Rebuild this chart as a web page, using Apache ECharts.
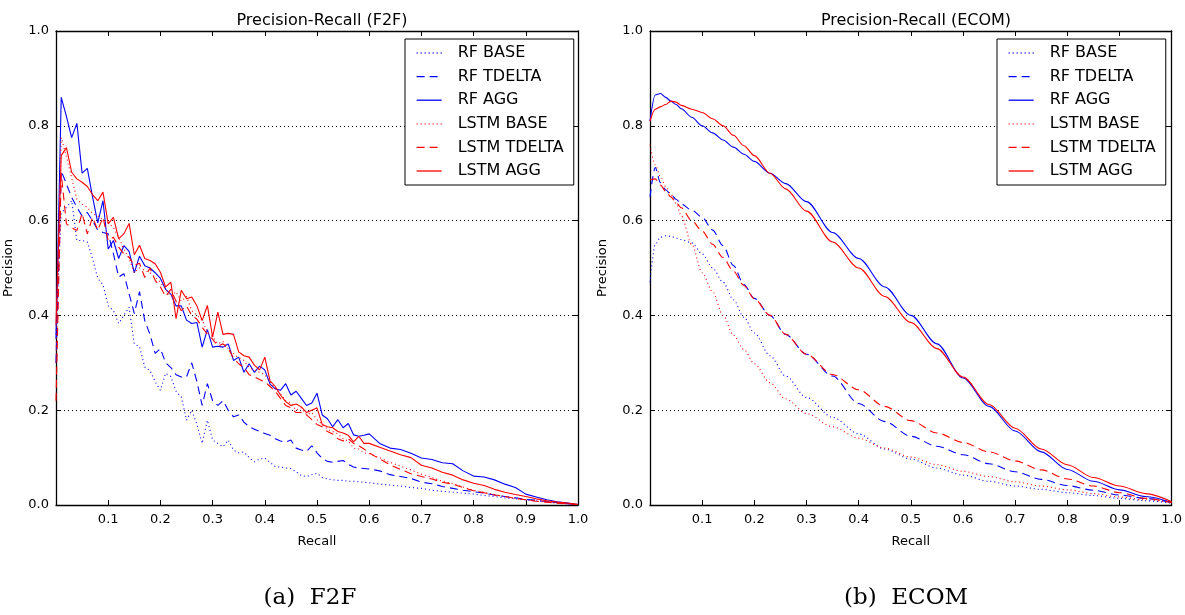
<!DOCTYPE html>
<html>
<head>
<meta charset="utf-8">
<script src="https://cdn.jsdelivr.net/npm/echarts@6/dist/echarts.min.js"></script>
<style>html,body{margin:0;padding:0;background:#fff;}#c{width:1185px;height:615px;}</style>
</head>
<body>
<div id="c"></div>
<script>
// ---------- data ----------
const SERIES_NAMES = ['RF BASE', 'RF TDELTA', 'RF AGG', 'LSTM BASE', 'LSTM TDELTA', 'LSTM AGG'];
const X_TICK_LABELS = ['0.1','0.2','0.3','0.4','0.5','0.6','0.7','0.8','0.9','1.0'];
const Y_TICK_LABELS = ['0.0','0.2','0.4','0.6','0.8','1.0'];

// F2F panel
const F2F_RECALL = [0.00,0.01,0.02,0.03,0.04,0.05,0.06,0.07,0.08,0.09,0.10,0.11,0.12,0.13,0.14,0.15,0.16,0.17,0.18,0.19,0.20,0.21,0.22,0.23,0.24,0.25,0.26,0.27,0.28,0.29,0.30,0.31,0.32,0.33,0.34,0.35,0.36,0.37,0.38,0.39,0.40,0.41,0.42,0.43,0.44,0.45,0.46,0.47,0.48,0.49,0.50,0.51,0.52,0.53,0.54,0.55,0.56,0.57,0.58,0.59,0.60,0.62,0.64,0.66,0.68,0.70,0.72,0.74,0.76,0.78,0.80,0.82,0.84,0.86,0.88,0.90,0.92,0.94,0.96,0.98,1.00];
const F2F_RF_BASE = [0.36,0.615,0.628,0.642,0.558,0.558,0.555,0.52,0.478,0.465,0.42,0.41,0.383,0.40,0.417,0.34,0.334,0.291,0.284,0.26,0.242,0.278,0.271,0.24,0.228,0.179,0.20,0.17,0.13,0.179,0.137,0.13,0.123,0.137,0.116,0.11,0.112,0.10,0.091,0.097,0.099,0.09,0.081,0.08,0.078,0.077,0.07,0.062,0.06,0.064,0.067,0.058,0.055,0.053,0.052,0.052,0.05,0.05,0.049,0.048,0.047,0.044,0.042,0.04,0.037,0.035,0.031,0.029,0.027,0.025,0.023,0.02,0.018,0.015,0.013,0.011,0.009,0.007,0.005,0.003,0.001];
const F2F_RF_TDELTA = [0.30,0.705,0.677,0.649,0.628,0.61,0.617,0.60,0.58,0.575,0.572,0.53,0.481,0.488,0.446,0.404,0.45,0.389,0.36,0.32,0.33,0.30,0.29,0.275,0.27,0.27,0.30,0.26,0.21,0.256,0.22,0.21,0.22,0.20,0.186,0.19,0.175,0.165,0.16,0.155,0.151,0.147,0.14,0.135,0.133,0.137,0.12,0.116,0.113,0.125,0.11,0.098,0.092,0.09,0.092,0.094,0.086,0.08,0.078,0.077,0.076,0.072,0.064,0.06,0.056,0.048,0.045,0.039,0.035,0.031,0.028,0.025,0.021,0.018,0.015,0.012,0.01,0.007,0.005,0.003,0.001];
const F2F_RF_AGG = [0.35,0.86,0.82,0.775,0.805,0.70,0.71,0.65,0.595,0.642,0.54,0.558,0.52,0.547,0.535,0.49,0.525,0.505,0.50,0.49,0.478,0.455,0.445,0.42,0.42,0.39,0.383,0.385,0.333,0.37,0.333,0.335,0.333,0.34,0.305,0.312,0.28,0.298,0.28,0.293,0.285,0.255,0.245,0.242,0.256,0.232,0.24,0.225,0.21,0.215,0.236,0.19,0.182,0.165,0.18,0.163,0.172,0.148,0.145,0.147,0.15,0.13,0.12,0.117,0.109,0.099,0.096,0.089,0.087,0.072,0.061,0.059,0.053,0.044,0.037,0.023,0.017,0.011,0.007,0.004,0.001];
const F2F_LSTM_BASE = [0.30,0.775,0.735,0.69,0.645,0.635,0.628,0.615,0.61,0.603,0.595,0.585,0.565,0.54,0.52,0.49,0.50,0.495,0.49,0.48,0.47,0.455,0.44,0.45,0.43,0.44,0.41,0.40,0.39,0.365,0.355,0.34,0.345,0.33,0.32,0.31,0.305,0.29,0.285,0.28,0.275,0.26,0.245,0.235,0.22,0.215,0.20,0.205,0.19,0.195,0.18,0.17,0.16,0.155,0.15,0.14,0.135,0.12,0.118,0.11,0.108,0.10,0.09,0.082,0.074,0.065,0.058,0.05,0.045,0.038,0.031,0.027,0.022,0.018,0.014,0.011,0.008,0.006,0.004,0.002,0.001];
const F2F_LSTM_TDELTA = [0.22,0.70,0.593,0.585,0.579,0.615,0.572,0.607,0.58,0.607,0.558,0.565,0.544,0.53,0.523,0.505,0.51,0.48,0.50,0.474,0.46,0.44,0.455,0.43,0.41,0.42,0.40,0.392,0.375,0.36,0.35,0.335,0.34,0.33,0.31,0.298,0.29,0.275,0.27,0.265,0.26,0.25,0.24,0.225,0.21,0.205,0.195,0.195,0.19,0.18,0.17,0.165,0.155,0.15,0.14,0.135,0.14,0.13,0.125,0.118,0.11,0.097,0.085,0.075,0.066,0.06,0.055,0.048,0.044,0.037,0.03,0.026,0.021,0.018,0.014,0.011,0.008,0.006,0.004,0.003,0.001];
const F2F_LSTM_AGG = [0.38,0.737,0.754,0.702,0.688,0.681,0.672,0.655,0.642,0.66,0.593,0.607,0.562,0.572,0.594,0.528,0.548,0.52,0.516,0.509,0.491,0.46,0.47,0.393,0.453,0.435,0.439,0.42,0.389,0.421,0.354,0.407,0.36,0.362,0.36,0.323,0.315,0.312,0.295,0.285,0.312,0.262,0.25,0.232,0.218,0.21,0.213,0.207,0.195,0.20,0.205,0.17,0.165,0.163,0.155,0.152,0.147,0.133,0.145,0.13,0.13,0.122,0.114,0.106,0.10,0.084,0.078,0.069,0.063,0.053,0.046,0.041,0.033,0.027,0.022,0.018,0.013,0.009,0.006,0.004,0.001];

// ECOM panel
const ECOM_RECALL = [0.00,0.01,0.02,0.03,0.04,0.05,0.06,0.08,0.10,0.12,0.14,0.16,0.18,0.20,0.23,0.26,0.30,0.35,0.40,0.45,0.50,0.55,0.60,0.65,0.70,0.75,0.80,0.85,0.90,0.95,1.00];
const ECOM_RF_BASE = [0.47,0.55,0.565,0.568,0.567,0.563,0.56,0.553,0.53,0.50,0.47,0.433,0.396,0.363,0.315,0.272,0.227,0.185,0.15,0.118,0.097,0.078,0.063,0.05,0.04,0.033,0.026,0.02,0.014,0.009,0.004];
const ECOM_RF_TDELTA = [0.65,0.712,0.68,0.665,0.655,0.645,0.635,0.622,0.607,0.58,0.547,0.505,0.465,0.436,0.40,0.36,0.318,0.272,0.214,0.176,0.145,0.124,0.106,0.087,0.07,0.054,0.041,0.031,0.021,0.014,0.005];
const ECOM_RF_AGG = [0.81,0.865,0.868,0.86,0.852,0.845,0.836,0.818,0.80,0.785,0.77,0.755,0.74,0.725,0.70,0.678,0.64,0.575,0.52,0.46,0.40,0.34,0.268,0.208,0.156,0.112,0.075,0.05,0.032,0.018,0.005];
const ECOM_LSTM_BASE = [0.76,0.718,0.693,0.672,0.656,0.636,0.61,0.55,0.49,0.45,0.40,0.358,0.328,0.298,0.258,0.224,0.193,0.165,0.141,0.12,0.101,0.085,0.071,0.06,0.049,0.04,0.032,0.024,0.017,0.011,0.005];
const ECOM_LSTM_TDELTA = [0.686,0.688,0.675,0.662,0.65,0.638,0.627,0.60,0.578,0.55,0.522,0.493,0.463,0.435,0.40,0.36,0.318,0.275,0.243,0.208,0.178,0.152,0.132,0.112,0.093,0.074,0.055,0.04,0.026,0.014,0.005];
const ECOM_LSTM_AGG = [0.81,0.835,0.84,0.845,0.852,0.85,0.843,0.835,0.828,0.815,0.80,0.78,0.758,0.737,0.70,0.667,0.62,0.555,0.50,0.44,0.385,0.33,0.27,0.212,0.162,0.118,0.085,0.058,0.04,0.024,0.007];

// ---------- chart ----------
const BLUE = '#0000ff', RED = '#ff0000';
const STYLES = [
  {color: BLUE, type: [1, 3]},
  {color: BLUE, type: [8, 5]},
  {color: BLUE, type: 'solid'},
  {color: RED, type: [1, 3]},
  {color: RED, type: [8, 5]},
  {color: RED, type: 'solid'}
];
const F2F_VALUES = [F2F_RF_BASE, F2F_RF_TDELTA, F2F_RF_AGG, F2F_LSTM_BASE, F2F_LSTM_TDELTA, F2F_LSTM_AGG];
const ECOM_VALUES = [ECOM_RF_BASE, ECOM_RF_TDELTA, ECOM_RF_AGG, ECOM_LSTM_BASE, ECOM_LSTM_TDELTA, ECOM_LSTM_AGG];

const FONT = 'DejaVu Sans';
const GRID_TOP = 31, GRID_H = 474, GRID_W = 522;
const GRID_LEFTS = [56, 650];

function zip(xs, ys) { return xs.map((x, i) => [x, ys[i]]); }

const grids = GRID_LEFTS.map(l => ({left: l, top: GRID_TOP, width: GRID_W, height: GRID_H, containLabel: false}));

const xAxes = [], yAxes = [];
GRID_LEFTS.forEach((l, g) => {
  xAxes.push({
    gridIndex: g, type: 'value', min: 0, max: 1, interval: 0.1, position: 'bottom',
    name: 'Recall', nameLocation: 'middle', nameGap: 30,
    nameTextStyle: {fontFamily: FONT, fontSize: 13, color: '#000'},
    axisLine: {show: true, onZero: false, lineStyle: {color: '#000', width: 1.3}},
    axisTick: {show: true, inside: true, length: 5, lineStyle: {color: '#000'}},
    axisLabel: {fontFamily: FONT, fontSize: 13, color: '#000', margin: 8,
      formatter: v => { const i = Math.round(v * 10) - 1; return i >= 0 ? X_TICK_LABELS[i] : ''; }},
    splitLine: {show: false}
  });
  xAxes.push({
    gridIndex: g, type: 'value', min: 0, max: 1, interval: 0.1, position: 'top',
    axisLine: {show: true, onZero: false, lineStyle: {color: '#000', width: 1.3}},
    axisTick: {show: true, inside: true, length: 5, lineStyle: {color: '#000'}},
    axisLabel: {show: false}, splitLine: {show: false}
  });
  yAxes.push({
    gridIndex: g, type: 'value', min: 0, max: 1, interval: 0.2, position: 'left',
    name: 'Precision', nameLocation: 'middle', nameGap: 41, nameRotate: 90,
    nameTextStyle: {fontFamily: FONT, fontSize: 13, color: '#000'},
    axisLine: {show: true, onZero: false, lineStyle: {color: '#000', width: 1.3}},
    axisTick: {show: true, inside: true, length: 5, lineStyle: {color: '#000'}},
    axisLabel: {fontFamily: FONT, fontSize: 13, color: '#000', margin: 7,
      formatter: v => Y_TICK_LABELS[Math.round(v * 5)]},
    splitLine: {show: true, lineStyle: {color: '#000', type: [1, 3], width: 1}}
  });
  yAxes.push({
    gridIndex: g, type: 'value', min: 0, max: 1, interval: 0.2, position: 'right',
    axisLine: {show: true, onZero: false, lineStyle: {color: '#000', width: 1.3}},
    axisTick: {show: true, inside: true, length: 5, lineStyle: {color: '#000'}},
    axisLabel: {show: false}, splitLine: {show: false}
  });
});

const series = [];
[[F2F_RECALL, F2F_VALUES, 0, false], [ECOM_RECALL, ECOM_VALUES, 1, 0.3]].forEach(([xs, vals, g, smooth]) => {
  vals.forEach((ys, k) => {
    series.push({
      name: SERIES_NAMES[k], type: 'line', xAxisIndex: g * 2, yAxisIndex: g * 2,
      data: zip(xs, ys), showSymbol: false, symbol: 'none', smooth: smooth,
      smoothMonotone: smooth ? 'x' : undefined,
      lineStyle: {color: STYLES[k].color, type: STYLES[k].type, width: 1.1},
      itemStyle: {color: STYLES[k].color},
      emphasis: {disabled: true}, animation: false
    });
  });
});

const legendData = SERIES_NAMES.map((n, k) => ({
  name: n,
  itemStyle: {color: 'rgba(0,0,0,0)', borderWidth: 0, opacity: 0},
  lineStyle: {color: STYLES[k].color, type: STYLES[k].type, width: 1.3, opacity: 1}
}));

const legends = [405, 997].map(l => ({
  orient: 'vertical', left: l, top: 39, data: legendData,
  itemWidth: 25, itemHeight: 14, itemGap: 7.6,
  padding: [6, 10, 6, 11],
  backgroundColor: '#fff', borderColor: '#000', borderWidth: 1, borderRadius: 0,
  textStyle: {fontFamily: FONT, fontSize: 16, color: '#000', padding: [0, 0, 0, 11], lineHeight: 16},
  selectedMode: false
}));

const titles = [
  {text: 'Precision-Recall (F2F)', left: 317, top: 8, textAlign: 'center',
   textStyle: {fontFamily: FONT, fontSize: 16, fontWeight: 'normal', color: '#000'}},
  {text: 'Precision-Recall (ECOM)', left: 911, top: 8, textAlign: 'center',
   textStyle: {fontFamily: FONT, fontSize: 16, fontWeight: 'normal', color: '#000'}},
  {text: '(a)  F2F', left: 305, top: 582, textAlign: 'center',
   textStyle: {fontFamily: 'DejaVu Serif', fontSize: 23, fontWeight: 'normal', color: '#000'}},
  {text: '(b)  ECOM', left: 901, top: 582, textAlign: 'center',
   textStyle: {fontFamily: 'DejaVu Serif', fontSize: 23, fontWeight: 'normal', color: '#000'}}
];

const chart = echarts.init(document.getElementById('c'), null, {renderer: 'canvas'});
chart.setOption({
  animation: false,
  backgroundColor: '#fff',
  title: titles,
  legend: legends,
  grid: grids,
  xAxis: xAxes,
  yAxis: yAxes,
  series: series
});
</script>
</body>
</html>
